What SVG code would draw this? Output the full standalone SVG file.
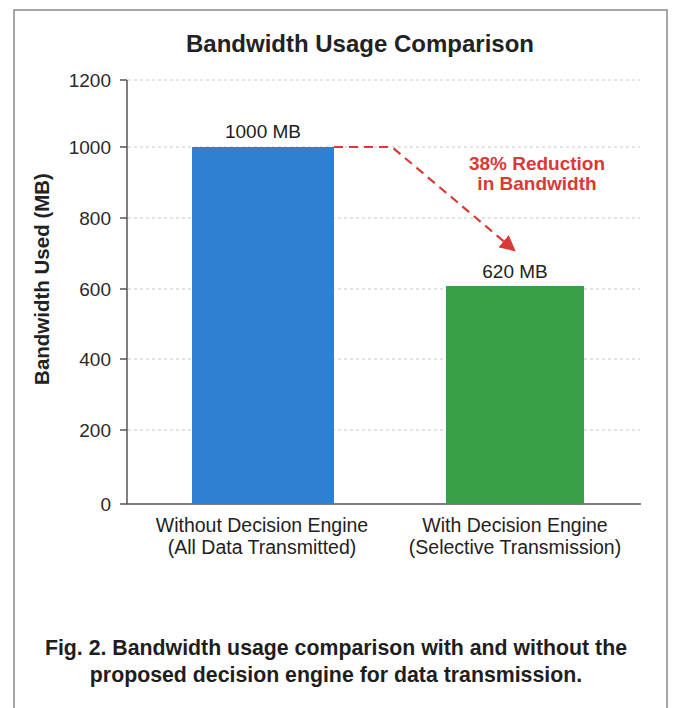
<svg xmlns="http://www.w3.org/2000/svg" width="673" height="708" viewBox="0 0 673 708">
<style>
text{font-family:"Liberation Sans",Arial,sans-serif;fill:#222}
.tick{font-size:19px;text-anchor:end;fill:#2a2a2a}
.grid{stroke:#c8c8c8;stroke-width:1;stroke-dasharray:3 3}
.ax{stroke:#555;stroke-width:1.5;fill:none}
.cat{font-size:19.5px;text-anchor:middle}
.val{font-size:19px;text-anchor:middle}
.red{fill:#d93a36;font-size:19px;font-weight:bold;text-anchor:middle}
.cap{font-size:21.3px;font-weight:bold;text-anchor:middle;fill:#1e1e1e}
</style>
<defs>
<marker id="ah" markerWidth="16" markerHeight="16" refX="12" refY="7" orient="auto" markerUnits="userSpaceOnUse" viewBox="0 0 14 14">
<path d="M0,0 L14,7 L0,14 Z" fill="#d93a36"/>
</marker>
</defs>
<rect x="0" y="0" width="673" height="708" fill="#fff"/>
<rect x="14" y="10" width="653" height="710" fill="#fff" stroke="#8a8a8a" stroke-width="1.5"/>
<text x="360" y="52" style="font-size:24px;font-weight:bold;text-anchor:middle">Bandwidth Usage Comparison</text>
<g id="grid">
<line class="grid" x1="128" y1="80" x2="640" y2="80"/>
<line class="grid" x1="128" y1="147" x2="640" y2="147"/>
<line class="grid" x1="128" y1="218" x2="640" y2="218"/>
<line class="grid" x1="128" y1="289" x2="640" y2="289"/>
<line class="grid" x1="128" y1="359" x2="640" y2="359"/>
<line class="grid" x1="128" y1="430" x2="640" y2="430"/>
</g>
<g id="axes">
<path class="ax" d="M127,80 V504 H641"/>
<path class="ax" d="M120,80 H127 M120,147 H127 M120,218 H127 M120,289 H127 M120,359 H127 M120,430 H127 M120,504 H127"/>
<text class="tick" x="111" y="87">1200</text>
<text class="tick" x="111" y="154">1000</text>
<text class="tick" x="111" y="225">800</text>
<text class="tick" x="111" y="296">600</text>
<text class="tick" x="111" y="366">400</text>
<text class="tick" x="111" y="437">200</text>
<text class="tick" x="111" y="511">0</text>
<text transform="translate(49,279) rotate(-90)" style="font-size:20.5px;font-weight:bold;text-anchor:middle">Bandwidth Used (MB)</text>
</g>
<g id="bar-without">
<rect x="192" y="147" width="142" height="357" fill="#2f7fd3"/>
<text class="val" x="263" y="138">1000 MB</text>
<text class="cat" x="262" y="532">Without Decision Engine</text>
<text class="cat" x="262" y="554">(All Data Transmitted)</text>
</g>
<g id="bar-with">
<rect x="446" y="286" width="138" height="218" fill="#39a048"/>
<text class="val" x="515" y="278">620 MB</text>
<text class="cat" x="515" y="532">With Decision Engine</text>
<text class="cat" x="515" y="554">(Selective Transmission)</text>
</g>
<g id="connectors">
<path d="M334,147 H392 L514,250" fill="none" stroke="#d93a36" stroke-width="2.2" stroke-dasharray="9 6" marker-end="url(#ah)"/>
</g>
<g id="annotation">
<text class="red" x="537" y="170">38% Reduction</text>
<text class="red" x="537" y="190">in Bandwidth</text>
</g>
<text class="cap" x="336" y="655">Fig. 2. Bandwidth usage comparison with and without the</text>
<text class="cap" x="336" y="682">proposed decision engine for data transmission.</text>
</svg>
